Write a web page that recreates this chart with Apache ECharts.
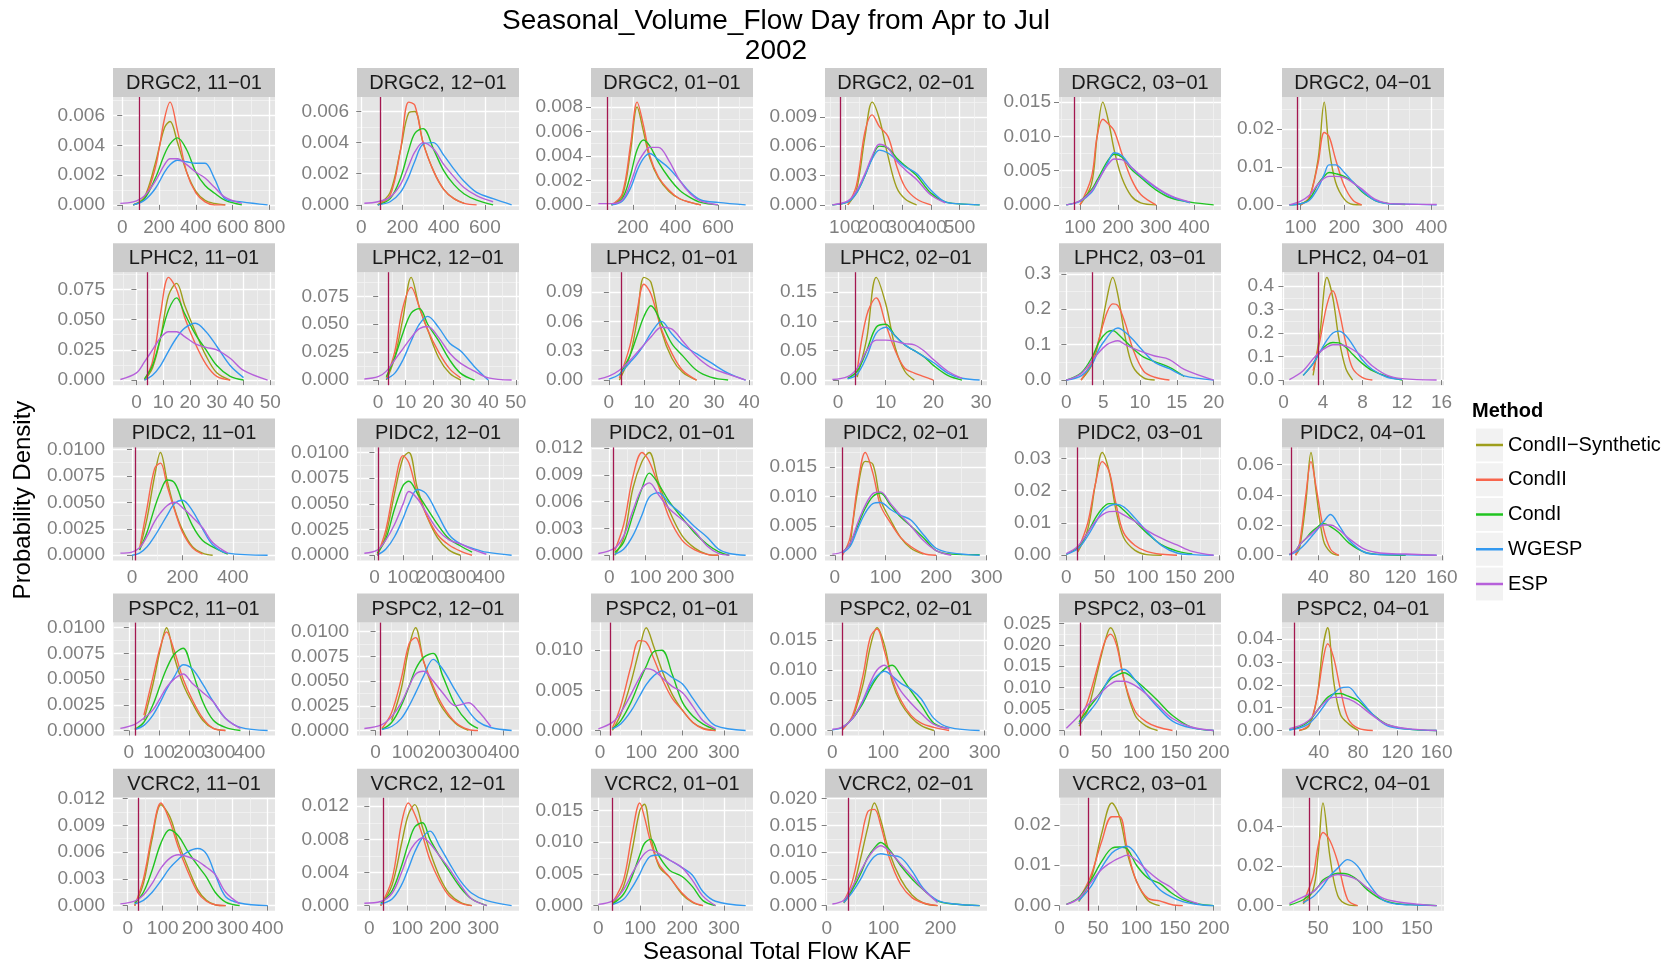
<!DOCTYPE html>
<html>
<head>
<meta charset="utf-8">
<title>Seasonal Volume Flow</title>
<script src="https://cdn.jsdelivr.net/npm/echarts@6.0.0/dist/echarts.min.js"></script>
<style>
  html, body { margin: 0; padding: 0; background: #fff; }
  #chart { width: 1673px; height: 967px; }
</style>
</head>
<body>
<div id="chart"></div>
<script>
const methods = ["CondII−Synthetic", "CondII", "CondI", "WGESP", "ESP"];

const panelNames = [
  "DRGC2, 11−01", "DRGC2, 12−01", "DRGC2, 01−01", "DRGC2, 02−01", "DRGC2, 03−01", "DRGC2, 04−01",
  "LPHC2, 11−01", "LPHC2, 12−01", "LPHC2, 01−01", "LPHC2, 02−01", "LPHC2, 03−01", "LPHC2, 04−01",
  "PIDC2, 11−01", "PIDC2, 12−01", "PIDC2, 01−01", "PIDC2, 02−01", "PIDC2, 03−01", "PIDC2, 04−01",
  "PSPC2, 11−01", "PSPC2, 12−01", "PSPC2, 01−01", "PSPC2, 02−01", "PSPC2, 03−01", "PSPC2, 04−01",
  "VCRC2, 11−01", "VCRC2, 12−01", "VCRC2, 01−01", "VCRC2, 02−01", "VCRC2, 03−01", "VCRC2, 04−01"
];

// observed seasonal flow (vertical line) per panel
const observed = [
  90, 90, 82, 85, 85, 92,
  4, 3.6, 3.4, 3.5, 3.5, 3.5,
  14, 15, 10, 14, 14, 14,
  21, 15, 24, 20, 22, 15,
  31, 36, 33, 38, 38, 41
];

// flow values (KAF) where the densities are read, one row per panel
const flowGrid = [
  [-10, 60, 120, 180, 230, 260, 300, 350, 400, 450, 500, 560, 650, 790],
  [15, 80, 140, 190, 230, 260, 300, 350, 400, 450, 500, 560, 640, 730],
  [38, 100, 150, 190, 220, 250, 280, 320, 370, 420, 470, 520, 600, 730],
  [56, 110, 140, 170, 195, 220, 250, 280, 310, 350, 400, 450, 500, 570],
  [64, 100, 130, 145, 160, 175, 190, 210, 235, 260, 300, 340, 390, 452],
  [74, 100, 120, 140, 154, 165, 180, 200, 220, 240, 270, 300, 340, 412],
  [-6, 0, 3, 6, 9, 12, 15, 18, 22, 26, 30, 35, 40, 49],
  [-5, 0, 3, 6, 9, 12, 15, 18, 22, 26, 30, 35, 40, 48.5],
  [-3, 0, 3, 6, 8, 10, 12, 15, 18, 21, 25, 29, 34, 39],
  [-1.2, 2, 4, 6, 8, 10, 12, 14, 16, 18, 20, 23, 26, 29.7],
  [0, 2, 3.5, 4.5, 5.5, 6.3, 7, 8, 9, 10.5, 12, 14, 16, 20],
  [0.6, 2, 3, 3.7, 4.4, 5, 5.6, 6.3, 7, 8, 9, 10.5, 12, 15.5],
  [-46, 0, 30, 60, 90, 113, 140, 170, 200, 240, 280, 320, 380, 538],
  [-35, 10, 40, 70, 100, 120, 150, 180, 220, 260, 300, 340, 390, 478],
  [-30, 15, 40, 65, 90, 110, 135, 165, 200, 235, 270, 300, 330, 375],
  [-5, 15, 30, 45, 60, 75, 90, 110, 130, 150, 175, 200, 230, 286],
  [0, 15, 28, 38, 47, 56, 65, 75, 90, 105, 125, 145, 165, 193],
  [12, 18, 22, 28, 33, 38, 45, 52, 60, 70, 85, 100, 125, 155],
  [-28, 20, 50, 80, 105, 125, 150, 180, 210, 245, 280, 320, 370, 460],
  [-35, 20, 50, 80, 105, 125, 150, 180, 210, 250, 290, 320, 360, 425],
  [-4, 30, 50, 75, 95, 112, 130, 150, 175, 200, 225, 250, 280, 353],
  [0, 20, 40, 60, 75, 88, 103, 118, 135, 155, 175, 200, 230, 290],
  [3, 20, 32, 45, 55, 62, 70, 80, 95, 110, 125, 145, 170, 200],
  [10, 20, 30, 38, 44, 49, 55, 62, 70, 80, 95, 110, 130, 160],
  [-21, 20, 45, 70, 95, 120, 145, 170, 200, 225, 250, 280, 320, 400],
  [-13, 30, 60, 85, 103, 120, 140, 160, 185, 210, 240, 270, 310, 375],
  [0, 35, 60, 80, 99, 110, 125, 145, 170, 200, 225, 250, 280, 352],
  [10, 30, 45, 60, 72, 84, 95, 110, 130, 150, 170, 195, 225, 269],
  [9, 25, 40, 55, 68, 78, 88, 100, 115, 130, 145, 160, 180, 200],
  [21, 35, 45, 50, 55, 62, 70, 80, 90, 100, 115, 130, 150, 170]
];

const condIISynthetic = [
  [null, 0, .0005, .0028, .0052, .0056, .0042, .0022, .0009, .0003, .0001, 0, null, null],
  [null, 0, .0008, .0035, .0059, .0060, .0040, .0022, .0010, .0004, .0001, null, null, null],
  [null, 0, .0007, .0045, .0080, .0060, .0038, .0022, .0011, .0005, .0002, 0, null, null],
  [null, 0, .0015, .0070, .0105, .0088, .0050, .0018, .0006, 0, null, null, null, null],
  [null, 0, .0030, .0100, .0150, .0122, .0080, .0040, .0013, .0003, 0, null, null, null],
  [null, 0, .0020, .0120, .0270, .0150, .0060, .0015, .0001, 0, null, null, null, null],
  [null, null, 0, .010, .035, .070, .080, .062, .040, .020, .006, 0, null, null],
  [null, null, 0, .020, .055, .092, .065, .045, .020, .006, 0, null, null, null],
  [null, null, 0, .025, .060, .105, .100, .050, .022, .008, 0, null, null, null],
  [null, null, .005, .070, .175, .130, .055, .015, 0, null, null, null, null, null],
  [null, 0, .045, .120, .230, .290, .240, .120, .040, .006, 0, null, null, null],
  [null, null, .020, .200, .437, .350, .180, .050, 0, null, null, null, null, null],
  [null, null, .0005, .0035, .0075, .0097, .0070, .0043, .0024, .0008, .0002, 0, null, null],
  [null, 0, .0020, .0060, .0095, .0100, .0065, .0040, .0017, .0005, 0, null, null, null],
  [null, 0, .0020, .0075, .0105, .0115, .0082, .0050, .0022, .0008, .0001, 0, null, null],
  [null, null, .0015, .0110, .0160, .0155, .0095, .0060, .0030, .0012, .0002, null, null, null],
  [null, .0010, .0080, .0220, .0318, .0260, .0140, .0055, .0015, .0002, 0, null, null, null],
  [null, 0, .005, .035, .068, .042, .010, .002, 0, null, null, null, null, null],
  [null, null, .0010, .0045, .0080, .0100, .0072, .0045, .0027, .0010, .0002, 0, null, null],
  [null, null, .0010, .0042, .0085, .0104, .0070, .0042, .0022, .0007, 0, null, null, null],
  [null, 0, .0020, .0060, .0100, .0128, .0105, .0075, .0045, .0025, .0010, .0003, 0, null],
  [null, null, .0020, .0075, .0140, .0170, .0140, .0080, .0045, .0022, .0008, 0, null, null],
  [null, .0010, .0050, .0140, .0210, .0240, .0210, .0120, .0035, .0010, 0, null, null, null],
  [null, 0, .0020, .0140, .0360, .0450, .0220, .0070, .0030, 0, null, null, null, null],
  [null, 0, .0025, .0075, .0113, .0100, .0070, .0045, .0018, .0006, .0001, 0, null, null],
  [null, 0, .0025, .0075, .0110, .0122, .0095, .0065, .0035, .0015, .0004, 0, null, null],
  [null, .0004, .0030, .0085, .0150, .0160, .0110, .0062, .0045, .0018, .0005, 0, null, null],
  [null, .0005, .0030, .0090, .0145, .0192, .0160, .0100, .0050, .0020, .0005, 0, null, null],
  [null, .0010, .0060, .0180, .0254, .0220, .0130, .0060, .0012, 0, null, null, null, null],
  [null, .0010, .0080, .0250, .0520, .0250, .0050, .0005, 0, null, null, null, null, null]
];

const condII = [
  [null, 0, .0004, .0025, .0058, .0069, .0050, .0022, .0008, .0002, 0, 0, null, null],
  [null, 0, .0006, .0035, .0066, .0064, .0040, .0022, .0010, .0004, .0001, 0, null, null],
  [null, 0, .0009, .0050, .0084, .0065, .0040, .0023, .0012, .0005, .0002, 0, null, null],
  [null, 0, .0020, .0075, .0092, .0080, .0070, .0040, .0018, .0006, 0, null, null, null],
  [null, 0, .0040, .0100, .0125, .0118, .0108, .0075, .0038, .0015, 0, null, null, null],
  [null, 0, .0020, .0110, .0190, .0180, .0120, .0050, .0012, 0, null, null, null, null],
  [null, null, 0, .015, .055, .085, .075, .052, .030, .013, .003, 0, null, null],
  [null, null, .002, .025, .065, .083, .065, .045, .025, .010, .002, null, null, null],
  [null, null, .002, .035, .070, .098, .088, .052, .027, .010, 0, null, null, null],
  [null, null, .015, .110, .140, .095, .050, .020, .012, .006, 0, null, null, null],
  [null, 0, .055, .120, .190, .215, .210, .160, .090, .025, .008, 0, null, null],
  [null, null, .040, .170, .320, .380, .300, .160, .050, .010, 0, null, null, null],
  [null, null, .0006, .0045, .0082, .0087, .0065, .0042, .0022, .0007, .0001, null, null, null],
  [null, 0, .0025, .0068, .0097, .0090, .0060, .0040, .0020, .0010, .0004, 0, null, null],
  [null, .0005, .0035, .0088, .0115, .0105, .0078, .0042, .0017, .0006, .0001, 0, null, null],
  [null, 0, .0030, .0120, .0175, .0140, .0085, .0055, .0030, .0015, .0003, 0, null, null],
  [null, .0015, .0100, .0220, .0290, .0260, .0160, .0070, .0030, .0012, .0003, 0, null, null],
  [null, 0, .008, .040, .062, .045, .018, .004, 0, null, null, null, null, null],
  [null, null, .0015, .0052, .0082, .0096, .0078, .0050, .0030, .0012, .0002, 0, null, null],
  [null, .0002, .0018, .0052, .0088, .0094, .0070, .0045, .0025, .0008, .0001, 0, null, null],
  [null, .0003, .0030, .0080, .0112, .0110, .0090, .0065, .0040, .0025, .0010, .0002, 0, null],
  [null, .0001, .0025, .0090, .0155, .0168, .0130, .0085, .0050, .0025, .0012, .0005, 0, null],
  [null, .0015, .0070, .0150, .0210, .0225, .0200, .0120, .0045, .0020, .0008, 0, null, null],
  [null, 0, .0025, .0140, .0300, .0380, .0320, .0180, .0050, .0010, 0, null, null, null],
  [null, 0, .0030, .0080, .0115, .0095, .0065, .0040, .0015, .0005, .0001, 0, null, null],
  [null, 0, .0032, .0100, .0124, .0110, .0085, .0055, .0030, .0012, .0003, 0, null, null],
  [null, .0006, .0040, .0110, .0162, .0140, .0100, .0065, .0045, .0020, .0006, 0, null, null],
  [null, .0008, .0045, .0120, .0175, .0180, .0150, .0090, .0040, .0015, .0005, 0, null, null],
  [null, .0015, .0070, .0160, .0220, .0220, .0140, .0060, .0018, .0012, .0003, 0, null, null],
  [null, .0015, .0150, .0300, .0370, .0330, .0220, .0030, 0, null, null, null, null, null]
];

const condI = [
  [null, 0, .0004, .0018, .0034, .0041, .0045, .0037, .0022, .0013, .0008, .0003, 0, null],
  [null, 0, .0004, .0017, .0035, .0046, .0049, .0036, .0022, .0013, .0007, .0003, 0, null],
  [null, 0, .0005, .0025, .0045, .0053, .0048, .0035, .0022, .0012, .0006, .0002, 0, null],
  [0, .0003, .0012, .0030, .0048, .0060, .0058, .0048, .0040, .0030, .0012, .0003, .0001, 0],
  [0, .0006, .0022, .0036, .0052, .0066, .0074, .0070, .0052, .0040, .0022, .0010, .0004, 0],
  [0, .0003, .0015, .0055, .0075, .0085, .0082, .0075, .0060, .0035, .0012, .0004, .0001, null],
  [null, null, .001, .012, .035, .058, .068, .055, .038, .025, .012, .003, 0, null],
  [null, null, .003, .020, .042, .060, .064, .050, .035, .018, .006, 0, null, null],
  [null, null, .005, .025, .045, .065, .076, .058, .037, .025, .010, .003, 0, null],
  [null, .003, .015, .050, .090, .095, .075, .060, .050, .040, .025, .008, 0, null],
  [0, .020, .065, .110, .135, .140, .130, .110, .090, .065, .052, .036, .010, null],
  [null, .020, .070, .120, .150, .160, .158, .140, .110, .070, .040, .015, 0, null],
  [null, null, .0005, .0022, .0045, .0060, .0071, .0068, .0050, .0028, .0014, .0008, .0001, null],
  [null, .0002, .0016, .0045, .0068, .0072, .0060, .0047, .0030, .0016, .0009, .0003, null, null],
  [null, .0003, .0015, .0045, .0075, .0092, .0080, .0060, .0042, .0025, .0012, .0004, 0, null],
  [null, .0005, .0020, .0050, .0080, .0100, .0106, .0085, .0065, .0050, .0030, .0008, .0002, .0001],
  [.0003, .0025, .0070, .0115, .0145, .0160, .0158, .0140, .0105, .0070, .0032, .0013, .0004, null],
  [.0005, .003, .007, .011, .015, .018, .021, .019, .015, .008, .002, .0005, 0, null],
  [null, .0001, .0008, .0025, .0045, .0060, .0074, .0080, .0058, .0028, .0010, .0003, 0, null],
  [null, .0001, .0008, .0025, .0045, .0062, .0074, .0078, .0055, .0025, .0008, .0002, null, null],
  [null, .0002, .0012, .0035, .0060, .0080, .0098, .0100, .0070, .0035, .0018, .0008, .0001, null],
  [null, .0005, .0020, .0045, .0070, .0088, .0102, .0108, .0090, .0065, .0042, .0012, .0003, null],
  [null, .0020, .0050, .0080, .0105, .0120, .0128, .0135, .0118, .0095, .0070, .0035, .0008, 0],
  [.0003, .0015, .0040, .0085, .0120, .0145, .0160, .0162, .0150, .0130, .0070, .0025, .0006, 0],
  [null, .0003, .0015, .0040, .0070, .0085, .0078, .0062, .0045, .0032, .0015, .0004, 0, null],
  [null, .0003, .0018, .0048, .0075, .0095, .0100, .0080, .0060, .0042, .0022, .0008, 0, null],
  [null, .0003, .0018, .0045, .0080, .0098, .0105, .0078, .0056, .0046, .0030, .0008, 0, null],
  [null, .0008, .0030, .0060, .0090, .0108, .0118, .0105, .0075, .0050, .0030, .0009, .0003, 0],
  [.0003, .0020, .0060, .0110, .0142, .0145, .0140, .0100, .0068, .0055, .0032, .0015, .0004, 0],
  [.0003, .0030, .0070, .0095, .0130, .0150, .0164, .0160, .0130, .0080, .0030, .0010, .0005, 0]
];

const wgesp = [
  [null, 0, .0003, .0011, .0022, .0027, .0030, .0029, .0028, .0028, .0018, .0004, .0002, 0],
  [null, 0, .0002, .0008, .0018, .0028, .0039, .0040, .0032, .0023, .0015, .0008, .0004, 0],
  [null, 0, .0003, .0014, .0028, .0038, .0042, .0037, .0030, .0020, .0010, .0004, .0002, 0],
  [0, .0003, .0012, .0030, .0047, .0056, .0053, .0046, .0039, .0032, .0015, .0003, .0001, 0],
  [0, .0005, .0018, .0032, .0048, .0064, .0076, .0072, .0055, .0042, .0025, .0012, .0003, null],
  [0, .0003, .0012, .0045, .0080, .0105, .0105, .0085, .0060, .0038, .0012, .0003, .0002, 0],
  [null, null, 0, .004, .012, .024, .035, .043, .047, .040, .028, .012, .002, null],
  [null, null, .001, .006, .018, .035, .050, .057, .047, .033, .026, .012, 0, null],
  [null, .001, .006, .018, .026, .036, .048, .060, .047, .036, .027, .018, .007, 0],
  [null, .002, .010, .040, .080, .090, .075, .060, .050, .040, .030, .012, .003, 0],
  [0, .012, .045, .090, .120, .140, .147, .135, .115, .080, .050, .032, .012, 0],
  [null, .020, .070, .120, .170, .200, .208, .190, .150, .085, .045, .012, .003, null],
  [null, 0, .0002, .0008, .0018, .0027, .0038, .0049, .0052, .0042, .0025, .0010, .0002, 0],
  [null, 0, .0006, .0018, .0036, .0050, .0064, .0060, .0040, .0020, .0011, .0007, .0003, 0],
  [null, .0001, .0007, .0022, .0045, .0065, .0070, .0058, .0046, .0032, .0020, .0007, .0002, 0],
  [null, .0004, .0015, .0045, .0072, .0088, .0090, .0078, .0068, .0060, .0035, .0012, .0004, 0],
  [.0003, .0020, .0060, .0100, .0135, .0152, .0158, .0150, .0115, .0075, .0030, .0007, .0002, 0],
  [.0003, .002, .004, .008, .012, .016, .022, .027, .020, .010, .002, .0005, .0003, 0],
  [null, .0001, .0005, .0015, .0028, .0040, .0052, .0064, .0060, .0045, .0028, .0012, .0003, 0],
  [null, .0001, .0004, .0012, .0025, .0038, .0055, .0072, .0062, .0040, .0020, .0009, .0003, 0],
  [null, .0002, .0008, .0024, .0042, .0057, .0068, .0074, .0066, .0058, .0040, .0022, .0006, 0],
  [.0001, .0005, .0020, .0048, .0075, .0090, .0098, .0090, .0078, .0068, .0052, .0020, .0005, 0],
  [null, .0015, .0040, .0070, .0105, .0125, .0137, .0143, .0118, .0085, .0055, .0022, .0006, 0],
  [.0002, .0010, .0030, .0065, .0100, .0130, .0160, .0185, .0190, .0145, .0070, .0020, .0006, 0],
  [null, .0002, .0006, .0015, .0028, .0042, .0052, .0060, .0064, .0058, .0035, .0010, .0003, 0],
  [null, .0002, .0008, .0025, .0045, .0065, .0082, .0090, .0072, .0052, .0030, .0015, .0006, 0],
  [null, .0002, .0010, .0028, .0050, .0065, .0078, .0080, .0072, .0060, .0048, .0022, .0007, 0],
  [null, .0006, .0025, .0050, .0075, .0092, .0097, .0094, .0090, .0065, .0032, .0010, .0003, 0],
  [null, .0012, .0045, .0095, .0130, .0142, .0147, .0125, .0075, .0040, .0022, .0010, .0003, 0],
  [null, .0015, .0045, .0070, .0100, .0150, .0190, .0233, .0200, .0120, .0030, .0008, .0003, 0]
];

const esp = [
  [.0001, .0002, .0006, .0016, .0027, .0031, .0031, .0027, .0022, .0018, .0012, .0005, .0001, null],
  [.0001, .0002, .0005, .0013, .0025, .0034, .0040, .0036, .0026, .0018, .0011, .0006, .0002, null],
  [.0001, .0001, .0004, .0018, .0033, .0042, .0047, .0047, .0036, .0020, .0009, .0003, 0, null],
  [0, .0004, .0014, .0032, .0050, .0062, .0058, .0045, .0036, .0026, .0010, .0002, null, null],
  [0, .0006, .0020, .0033, .0047, .0060, .0067, .0066, .0055, .0043, .0026, .0013, .0004, null],
  [0, .0010, .0025, .0055, .0070, .0075, .0075, .0072, .0058, .0042, .0015, .0004, .0002, .0001],
  [.0005, .006, .015, .025, .035, .040, .040, .036, .030, .027, .025, .018, .008, 0],
  [.001, .003, .008, .018, .028, .038, .046, .048, .038, .024, .015, .008, .002, 0],
  [.001, .004, .010, .020, .028, .036, .044, .054, .052, .040, .024, .013, .006, 0],
  [.001, .006, .020, .050, .068, .068, .066, .062, .060, .050, .035, .015, .003, null],
  [0, .018, .055, .080, .100, .108, .111, .100, .090, .078, .068, .058, .030, 0],
  [.002, .040, .090, .120, .140, .150, .150, .145, .130, .100, .060, .020, .006, 0],
  [.0002, .0003, .0007, .0018, .0032, .0040, .0047, .0050, .0045, .0036, .0026, .0012, .0002, null],
  [.0002, .0005, .0015, .0030, .0050, .0062, .0055, .0042, .0025, .0015, .0011, .0006, .0001, null],
  [.0002, .0008, .0022, .0050, .0075, .0081, .0068, .0052, .0040, .0027, .0010, .0002, 0, null],
  [.0002, .0006, .0020, .0055, .0085, .0105, .0108, .0088, .0068, .0050, .0025, .0008, 0, null],
  [.0005, .0028, .0070, .0105, .0125, .0135, .0136, .0125, .0105, .0078, .0052, .0032, .0012, 0],
  [.0008, .003, .007, .011, .014, .017, .020, .020, .017, .011, .004, .0015, .0008, 0],
  [.0002, .0006, .0012, .0020, .0032, .0042, .0050, .0055, .0046, .0037, .0028, .0012, .0002, null],
  [.0002, .0006, .0014, .0028, .0045, .0057, .0060, .0050, .0038, .0025, .0028, .0020, .0004, null],
  [.0002, .0010, .0022, .0045, .0065, .0077, .0075, .0066, .0055, .0047, .0030, .0012, .0002, null],
  [.0002, .0006, .0020, .0050, .0080, .0100, .0108, .0090, .0065, .0045, .0028, .0010, .0003, null],
  [.0005, .0035, .0060, .0080, .0098, .0108, .0115, .0115, .0105, .0085, .0060, .0028, .0008, 0],
  [.0008, .0020, .0045, .0085, .0115, .0135, .0145, .0145, .0138, .0115, .0065, .0025, .0008, 0],
  [.0002, .0005, .0012, .0025, .0042, .0053, .0057, .0055, .0050, .0043, .0035, .0015, .0002, null],
  [.0003, .0005, .0015, .0040, .0062, .0075, .0082, .0075, .0060, .0045, .0025, .0008, 0, null],
  [.0002, .0008, .0025, .0050, .0072, .0082, .0088, .0082, .0072, .0060, .0040, .0015, 0, null],
  [.0003, .0010, .0035, .0065, .0088, .0105, .0112, .0102, .0078, .0055, .0030, .0006, null, null],
  [.0003, .0018, .0055, .0090, .0108, .0118, .0125, .0112, .0085, .0062, .0045, .0020, .0005, null],
  [.0010, .0045, .0070, .0095, .0120, .0145, .0158, .0150, .0130, .0090, .0040, .0020, .0008, 0]
];

// axis breaks per panel
const xBreaks = [
  [0, 200, 400, 600, 800], [0, 200, 400, 600], [200, 400, 600], [100, 200, 300, 400, 500], [100, 200, 300, 400], [100, 200, 300, 400],
  [0, 10, 20, 30, 40, 50], [0, 10, 20, 30, 40, 50], [0, 10, 20, 30, 40], [0, 10, 20, 30], [0, 5, 10, 15, 20], [0, 4, 8, 12, 16],
  [0, 200, 400], [0, 100, 200, 300, 400], [0, 100, 200, 300], [0, 100, 200, 300], [0, 50, 100, 150, 200], [40, 80, 120, 160],
  [0, 100, 200, 300, 400], [0, 100, 200, 300, 400], [0, 100, 200, 300], [0, 100, 200, 300], [0, 50, 100, 150, 200], [40, 80, 120, 160],
  [0, 100, 200, 300, 400], [0, 100, 200, 300], [0, 100, 200, 300], [0, 100, 200], [0, 50, 100, 150, 200], [50, 100, 150]
];

const yBreaks = [
  [0, .002, .004, .006], [0, .002, .004, .006], [0, .002, .004, .006, .008], [0, .003, .006, .009], [0, .005, .01, .015], [0, .01, .02],
  [0, .025, .05, .075], [0, .025, .05, .075], [0, .03, .06, .09], [0, .05, .1, .15], [0, .1, .2, .3], [0, .1, .2, .3, .4],
  [0, .0025, .005, .0075, .01], [0, .0025, .005, .0075, .01], [0, .003, .006, .009, .012], [0, .005, .01, .015], [0, .01, .02, .03], [0, .02, .04, .06],
  [0, .0025, .005, .0075, .01], [0, .0025, .005, .0075, .01], [0, .005, .01], [0, .005, .01, .015], [0, .005, .01, .015, .02, .025], [0, .01, .02, .03, .04],
  [0, .003, .006, .009, .012], [0, .004, .008, .012], [0, .005, .01, .015], [0, .005, .01, .015, .02], [0, .01, .02], [0, .02, .04]
];

const colors = ["#9e9e1c", "#f8654c", "#20c420", "#3399f0", "#b660da"];
const vlineColor = "#a3174f";
const fontFamily = "'Liberation Sans', Arial, sans-serif";
const tickGrey = "#7f7f7f";

// layout of the facet grid (pixels)
const colLeft = [113, 357, 591, 825, 1059, 1282];
const panelW = 162;
const stripH = 29;
const plotH = 113;
const rowTop = 68;
const rowStep = 175.2;

function decimals(list) {
  return Math.max(...list.map(v => {
    const s = String(v);
    const k = s.indexOf(".");
    return k < 0 ? 0 : s.length - k - 1;
  }));
}

function minorBreaks(br, lo, hi) {
  const step = br[1] - br[0];
  const out = [];
  for (let k = -1; k < br.length; k++) {
    const m = br[0] + step * (k + 0.5);
    if (m > lo && m < hi) out.push(m);
  }
  return out;
}

function xLabelStyle(values) {
  return {
    customValues: values, color: tickGrey, fontSize: 19, fontFamily: fontFamily,
    margin: 8, interval: 0, hideOverlap: false, showMinLabel: true, showMaxLabel: true,
    formatter: v => String(v)
  };
}

const grids = [];
const xAxes = [];
const yAxes = [];
const series = [];
const graphics = [];
const methodData = [condIISynthetic, condII, condI, wgesp, esp];

panelNames.forEach((name, i) => {
  const r = Math.floor(i / 6);
  const c = i % 6;
  const left = colLeft[c];
  const stripTop = rowTop + r * rowStep;
  const top = stripTop + stripH;
  const xs = flowGrid[i];

  // ggplot style ranges: data extent expanded 5% on each side
  const xLo = Math.min(xs[0], observed[i]);
  const xHi = Math.max(xs[xs.length - 1], observed[i]);
  const xPad = (xHi - xLo) * 0.05;
  const xMin = xLo - xPad, xMax = xHi + xPad;
  let peak = 0;
  methodData.forEach(m => m[i].forEach(v => { if (v != null && v > peak) peak = v; }));
  const yMin = -peak * 0.05, yMax = peak * 1.05;
  const yDec = decimals(yBreaks[i]);

  grids.push({
    left: left, top: top, width: panelW, height: plotH,
    show: true, backgroundColor: "#e5e5e5", borderWidth: 0
  });

  // x axes: minor grid (3i), main axis with every other label (3i+1), remaining labels (3i+2)
  xAxes.push({
    gridIndex: i, type: "value", min: xMin, max: xMax, position: "top",
    axisLine: { show: false }, axisLabel: { show: false },
    axisTick: { show: false, customValues: minorBreaks(xBreaks[i], xMin, xMax) },
    splitLine: { show: true, lineStyle: { color: "#f2f2f2", width: 0.8 } }
  });
  xAxes.push({
    gridIndex: i, type: "value", min: xMin, max: xMax, position: "bottom",
    axisLine: { show: false },
    axisTick: { show: true, length: 5, interval: 0, customValues: xBreaks[i], lineStyle: { color: tickGrey } },
    axisLabel: xLabelStyle(xBreaks[i].filter((v, k) => k % 2 === 0)),
    splitLine: { show: true, lineStyle: { color: "#ffffff", width: 1.3 } }
  });
  xAxes.push({
    gridIndex: i, type: "value", min: xMin, max: xMax, position: "bottom", offset: 0,
    axisLine: { show: false },
    axisTick: { show: false },
    axisLabel: xLabelStyle(xBreaks[i].filter((v, k) => k % 2 === 1)),
    splitLine: { show: false }
  });

  // y axes: minor grid (2i), main axis (2i+1)
  yAxes.push({
    gridIndex: i, type: "value", min: yMin, max: yMax, position: "right",
    axisLine: { show: false }, axisLabel: { show: false },
    axisTick: { show: false, customValues: minorBreaks(yBreaks[i], yMin, yMax) },
    splitLine: { show: true, lineStyle: { color: "#f2f2f2", width: 0.8 } }
  });
  yAxes.push({
    gridIndex: i, type: "value", min: yMin, max: yMax, position: "left",
    axisLine: { show: false },
    axisTick: { show: true, length: 5, interval: 0, customValues: yBreaks[i], lineStyle: { color: tickGrey } },
    axisLabel: {
      customValues: yBreaks[i], color: tickGrey, fontSize: 19, fontFamily: fontFamily,
      margin: 8, interval: 0, hideOverlap: false, showMinLabel: true, showMaxLabel: true,
      formatter: v => v.toFixed(yDec)
    },
    splitLine: { show: true, lineStyle: { color: "#ffffff", width: 1.3 } }
  });

  methods.forEach((method, m) => {
    const s = {
      name: method,
      type: "line",
      xAxisIndex: 3 * i + 1,
      yAxisIndex: 2 * i + 1,
      data: xs.map((x, k) => [x, methodData[m][i][k] == null ? "-" : methodData[m][i][k]]),
      showSymbol: false,
      smooth: 0.35,
      color: colors[m],
      lineStyle: { width: 1.4, color: colors[m] },
      silent: true,
      z: 3
    };
    if (m === 0) {
      s.markLine = {
        silent: true,
        symbol: ["none", "none"],
        label: { show: false },
        lineStyle: { color: vlineColor, width: 1.3, type: "solid" },
        data: [{ xAxis: observed[i] }]
      };
    }
    series.push(s);
  });

  // facet strip
  graphics.push({
    type: "rect", silent: true,
    shape: { x: left, y: stripTop, width: panelW, height: stripH },
    style: { fill: "#cccccc" }
  });
  graphics.push({
    type: "text", silent: true, x: left + panelW / 2, y: stripTop + stripH / 2 + 1,
    style: { text: name, fill: "#1a1a1a", fontSize: 20, fontFamily: fontFamily, align: "center", verticalAlign: "middle" }
  });
});

// titles
graphics.push({
  type: "text", silent: true, x: 776, y: 21,
  style: { text: "Seasonal_Volume_Flow Day from Apr to Jul", fill: "#000", fontSize: 28, fontFamily: fontFamily, align: "center", verticalAlign: "middle" }
});
graphics.push({
  type: "text", silent: true, x: 776, y: 51,
  style: { text: "2002", fill: "#000", fontSize: 28, fontFamily: fontFamily, align: "center", verticalAlign: "middle" }
});
graphics.push({
  type: "text", silent: true, x: 777, y: 952,
  style: { text: "Seasonal Total Flow KAF", fill: "#000", fontSize: 24, fontFamily: fontFamily, align: "center", verticalAlign: "middle" }
});
graphics.push({
  type: "text", silent: true, x: 23, y: 500, rotation: Math.PI / 2,
  style: { text: "Probability Density", fill: "#000", fontSize: 24, fontFamily: fontFamily, align: "center", verticalAlign: "middle" }
});

// legend title and key backgrounds
graphics.push({
  type: "text", silent: true, x: 1472, y: 411,
  style: { text: "Method", fill: "#000", fontSize: 20, fontWeight: "bold", fontFamily: fontFamily, align: "left", verticalAlign: "middle" }
});
methods.forEach((m, k) => {
  graphics.push({
    type: "rect", silent: true,
    shape: { x: 1476, y: 445 + k * 34.75 - 16.5, width: 27, height: 33 },
    style: { fill: "#f2f2f2" }
  });
});

const chart = echarts.init(document.getElementById("chart"));
chart.setOption({
  animation: false,
  backgroundColor: "#ffffff",
  grid: grids,
  xAxis: xAxes,
  yAxis: yAxes,
  series: series,
  graphic: graphics,
  legend: {
    data: methods,
    orient: "vertical",
    left: 1476,
    top: 435,
    padding: 0,
    icon: "rect",
    itemWidth: 27,
    itemHeight: 2.5,
    itemGap: 14.75,
    selectedMode: false,
    textStyle: { fontSize: 20, lineHeight: 20, fontFamily: fontFamily, color: "#000" }
  }
});
</script>
</body>
</html>
